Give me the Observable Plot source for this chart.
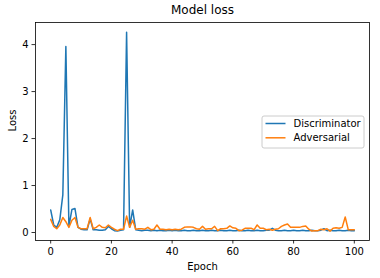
<!DOCTYPE html>
<html><head><meta charset="utf-8">
<script src="https://cdn.jsdelivr.net/npm/d3@7"></script>
<script src="https://cdn.jsdelivr.net/npm/@observablehq/plot@0.6"></script>
<style>body{margin:0;background:#fff} #chart svg{display:block}</style>
</head><body><div id="chart"></div>
<script>
const discriminator = [
0.48,0.16,0.11,0.27,0.80,3.96,0.13,0.49,0.51,0.11,
0.07,0.06,0.06,0.29,0.06,0.06,0.05,0.05,0.06,0.13,
0.08,0.04,0.03,0.05,0.06,4.26,0.11,0.48,0.06,0.05,
0.04,0.05,0.05,0.04,0.05,0.04,0.05,0.04,0.04,0.05,
0.04,0.05,0.04,0.04,0.05,0.04,0.04,0.05,0.04,0.04,
0.05,0.04,0.04,0.05,0.04,0.04,0.05,0.04,0.04,0.05,
0.04,0.04,0.05,0.04,0.04,0.05,0.04,0.04,0.05,0.04,
0.04,0.05,0.05,0.09,0.05,0.04,0.04,0.05,0.04,0.04,
0.05,0.04,0.04,0.05,0.04,0.04,0.05,0.04,0.04,0.05,
0.08,0.04,0.05,0.04,0.04,0.05,0.04,0.04,0.05,0.04,
0.04];
const adversarial = [
0.28,0.13,0.08,0.16,0.32,0.23,0.11,0.26,0.32,0.11,
0.08,0.08,0.08,0.32,0.08,0.11,0.16,0.11,0.10,0.16,
0.11,0.07,0.04,0.07,0.07,0.35,0.11,0.26,0.07,0.08,
0.08,0.07,0.11,0.06,0.07,0.16,0.07,0.07,0.06,0.07,
0.06,0.07,0.06,0.07,0.11,0.12,0.12,0.11,0.08,0.07,
0.13,0.07,0.08,0.08,0.13,0.04,0.08,0.08,0.09,0.14,
0.10,0.09,0.04,0.05,0.09,0.09,0.09,0.06,0.16,0.09,
0.09,0.06,0.07,0.05,0.07,0.08,0.13,0.16,0.18,0.11,
0.11,0.11,0.11,0.13,0.14,0.07,0.03,0.04,0.04,0.07,
0.06,0.08,0.03,0.09,0.10,0.09,0.11,0.33,0.06,0.06,
0.06];
const seriesNames = ["Discriminator", "Adversarial"];
const seriesColors = ["#1f77b4", "#ff7f0e"];
const xTicks = [0, 20, 40, 60, 80, 100];
const yTicks = [0, 1, 2, 3, 4];
const titleText = "Model loss";
const xLabel = "Epoch";
const yLabel = "Loss";

const rows = [];
[discriminator, adversarial].forEach((vals, s) => {
  vals.forEach((v, i) => rows.push({epoch: i, loss: v, series: seriesNames[s]}));
});

const chart = Plot.plot({
  width: 380, height: 278,
  marginLeft: 35, marginRight: 11, marginTop: 22, marginBottom: 38,
  style: {fontFamily: "DejaVu Sans", fontSize: "10px", background: "#fff", color: "#000"},
  x: {domain: [-5, 105]},
  y: {domain: [-0.17, 4.47]},
  color: {domain: seriesNames, range: seriesColors},
  marks: [
    Plot.lineY(rows, {x: "epoch", y: "loss", stroke: "series", z: "series", strokeWidth: 1.5}),
    Plot.frame({stroke: "#000", strokeWidth: 0.8}),
    Plot.axisX({ticks: xTicks, tickSize: 3.5, tickPadding: 3.5, strokeWidth: 0.8, label: null, tickFormat: d => String(d)}),
    Plot.axisY({ticks: yTicks, tickSize: 3.5, tickPadding: 3.5, strokeWidth: 0.8, label: null, tickFormat: d => String(d)}),
    Plot.text([titleText], {frameAnchor: "top", dy: -12.5, fontSize: 12, lineAnchor: "middle"}),
    Plot.text([xLabel], {frameAnchor: "bottom", dy: 26, fontSize: 10, lineAnchor: "middle"}),
    Plot.text([yLabel], {frameAnchor: "left", dx: -23, rotate: -90, fontSize: 10, lineAnchor: "middle"})
  ]
});

// legend box (matplotlib style), placed in the axes' center-right
const svg = d3.select(chart);
const lg = svg.append("g").attr("font-family", "DejaVu Sans").attr("font-size", 10).attr("text-anchor", "start");
lg.append("rect").attr("x", 262).attr("y", 116).attr("width", 102).attr("height", 32)
  .attr("rx", 2).attr("fill", "#fff").attr("fill-opacity", 0.8).attr("stroke", "#cccccc").attr("stroke-width", 1);
seriesNames.forEach((name, i) => {
  const y = 123.5 + i * 14.3;
  lg.append("line").attr("x1", 265.5).attr("x2", 285.5).attr("y1", y).attr("y2", y)
    .attr("stroke", seriesColors[i]).attr("stroke-width", 1.5);
  lg.append("text").attr("x", 293.5).attr("y", y).attr("dy", "0.35em").attr("fill", "#000")
    .attr("text-anchor", "start").text(name);
});

document.getElementById("chart").appendChild(chart);
</script>
</body></html>
